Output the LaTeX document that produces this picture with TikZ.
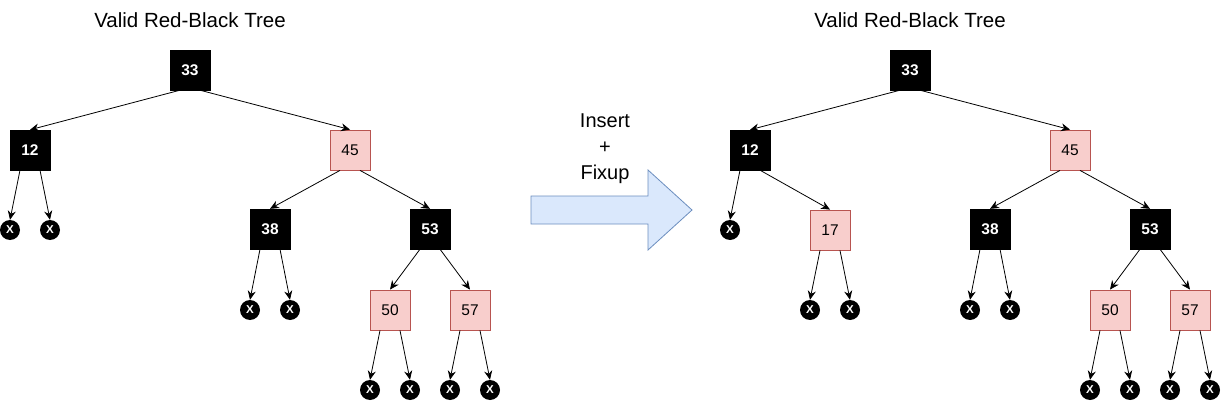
\documentclass[tikz,border=0pt]{standalone}
\usepackage{fontspec}
\setmainfont{Liberation Sans}
\usetikzlibrary{arrows.meta}
\definecolor{pinkfill}{HTML}{F8CECC}
\definecolor{pinkline}{HTML}{B85450}
\definecolor{bluefill}{HTML}{DAE8FC}
\definecolor{blueline}{HTML}{6C8EBF}
\tikzset{
  blk/.style={draw=black, fill=black, text=white, minimum size=40pt, inner sep=0pt, font=\fontsize{15.5}{18}\selectfont\bfseries},
  red/.style={draw=pinkline, fill=pinkfill, text=black, minimum size=40pt, inner sep=0pt, line width=0.8pt, font=\fontsize{15.5}{18}\selectfont},
  nil/.style={circle, fill=black, text=white, minimum size=20pt, inner sep=0pt, font=\fontsize{11.5}{12}\selectfont\bfseries},
  edge/.style={line width=0.8pt, -{Stealth[length=9pt,width=8pt]}},
  ttl/.style={font=\fontsize{20.5}{24}\selectfont}
}
\begin{document}
\begin{tikzpicture}[x=1pt,y=-1pt]
\useasboundingbox (0,0) rectangle (1221,401);
% ---------- left tree ----------
\node[ttl] (t1) at (190,20) {Valid Red-Black Tree};
\node[blk] (a33) at (190,70) {33};
\node[blk] (a12) at (30,150) {12};
\node[red] (a45) at (350,150) {45};
\node[blk] (a38) at (270,229) {38};
\node[blk] (a53) at (430,229) {53};
\node[red] (a50) at (390,310) {50};
\node[red] (a57) at (470,310) {57};
\node[nil] (l1) at (10,230) {X};
\node[nil] (l2) at (50,230) {X};
\node[nil] (l3) at (250,310) {X};
\node[nil] (l4) at (290,310) {X};
\node[nil] (l5) at (370,390) {X};
\node[nil] (l6) at (410,390) {X};
\node[nil] (l7) at (450,390) {X};
\node[nil] (l8) at (490,390) {X};
\draw[edge] ([xshift=-10pt]a33.south) -- (a12.north);
\draw[edge] ([xshift=10pt]a33.south) -- (a45.north);
\draw[edge] ([xshift=-10pt]a12.south) -- (l1.north);
\draw[edge] ([xshift=10pt]a12.south) -- (l2.north);
\draw[edge] ([xshift=-10pt]a45.south) -- (a38.north);
\draw[edge] ([xshift=10pt]a45.south) -- (a53.north);
\draw[edge] ([xshift=-10pt]a38.south) -- (l3.north);
\draw[edge] ([xshift=10pt]a38.south) -- (l4.north);
\draw[edge] ([xshift=-10pt]a53.south) -- (a50.north);
\draw[edge] ([xshift=10pt]a53.south) -- (a57.north);
\draw[edge] ([xshift=-10pt]a50.south) -- (l5.north);
\draw[edge] ([xshift=10pt]a50.south) -- (l6.north);
\draw[edge] ([xshift=-10pt]a57.south) -- (l7.north);
\draw[edge] ([xshift=10pt]a57.south) -- (l8.north);
% ---------- big arrow ----------
\node[align=center, font=\fontsize{20}{26}\selectfont] (lbl) at (605,149) {Insert\\+\\Fixup};
\draw[draw=blueline, fill=bluefill, line width=0.8pt]
  (531,196) -- (648,196) -- (648,170) -- (692,210) -- (648,250) -- (648,224) -- (531,224) -- cycle;
% ---------- right tree ----------
\node[ttl] (t2) at (910,20) {Valid Red-Black Tree};
\node[blk] (b33) at (910,70) {33};
\node[blk] (b12) at (750,150) {12};
\node[red] (b17) at (830,230) {17};
\node[red] (b45) at (1070,150) {45};
\node[blk] (b38) at (990,229) {38};
\node[blk] (b53) at (1150,229) {53};
\node[red] (b50) at (1110,310) {50};
\node[red] (b57) at (1190,310) {57};
\node[nil] (m1) at (730,230) {X};
\node[nil] (m2) at (810,310) {X};
\node[nil] (m3) at (850,310) {X};
\node[nil] (m4) at (970,310) {X};
\node[nil] (m5) at (1010,310) {X};
\node[nil] (m6) at (1090,390) {X};
\node[nil] (m7) at (1130,390) {X};
\node[nil] (m8) at (1170,390) {X};
\node[nil] (m9) at (1210,390) {X};
\draw[edge] ([xshift=-10pt]b33.south) -- (b12.north);
\draw[edge] ([xshift=10pt]b33.south) -- (b45.north);
\draw[edge] ([xshift=-10pt]b12.south) -- (m1.north);
\draw[edge] ([xshift=10pt]b12.south) -- (b17.north);
\draw[edge] ([xshift=-10pt]b17.south) -- (m2.north);
\draw[edge] ([xshift=10pt]b17.south) -- (m3.north);
\draw[edge] ([xshift=-10pt]b45.south) -- (b38.north);
\draw[edge] ([xshift=10pt]b45.south) -- (b53.north);
\draw[edge] ([xshift=-10pt]b38.south) -- (m4.north);
\draw[edge] ([xshift=10pt]b38.south) -- (m5.north);
\draw[edge] ([xshift=-10pt]b53.south) -- (b50.north);
\draw[edge] ([xshift=10pt]b53.south) -- (b57.north);
\draw[edge] ([xshift=-10pt]b50.south) -- (m6.north);
\draw[edge] ([xshift=10pt]b50.south) -- (m7.north);
\draw[edge] ([xshift=-10pt]b57.south) -- (m8.north);
\draw[edge] ([xshift=10pt]b57.south) -- (m9.north);
\end{tikzpicture}
\end{document}
